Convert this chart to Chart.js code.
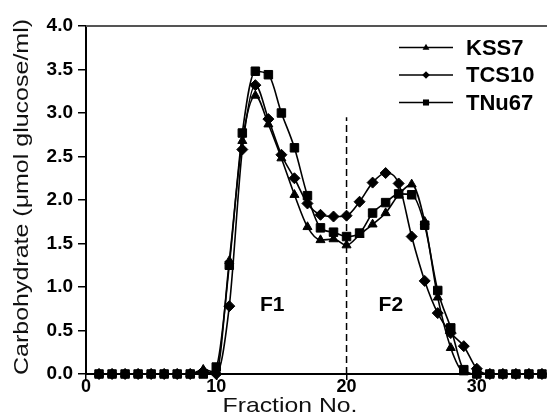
<!DOCTYPE html>
<html>
<head>
<meta charset="utf-8">
<script src="https://cdn.jsdelivr.net/npm/chart.js@4.4.0/dist/chart.umd.min.js"></script>
<style>
  html, body { margin: 0; padding: 0; background: #fff; overflow: hidden; }
</style>
</head>
<body>
<canvas id="myChart" width="547" height="419"></canvas>
<script>
// 横軸: フラクション番号
var fractions = [1, 2, 3, 4, 5, 6, 7, 8, 9, 10, 11, 12, 13, 14, 15, 16, 17, 18,
  19, 20, 21, 22, 23, 24, 25, 26, 27, 28, 29, 30, 31, 32, 33, 34, 35];
// 各系列の値 (µmol glucose/ml)
var kss7 = [0, 0, 0, 0, 0, 0, 0, 0, 0.05, 0.02, 1.30, 2.68, 3.20, 2.87, 2.48, 2.06, 1.69, 1.54,
  1.55, 1.48, 1.60, 1.72, 1.85, 2.06, 2.18, 1.75, 0.88, 0.30, 0.02, 0, 0, 0, 0, 0, 0];
var tcs10 = [0, 0, 0, 0, 0, 0, 0, 0, 0.03, 0, 0.78, 2.58, 3.32, 2.93, 2.52, 2.25, 1.96, 1.83,
  1.81, 1.82, 1.98, 2.20, 2.31, 2.19, 1.58, 1.07, 0.70, 0.47, 0.32, 0.06, 0, 0, 0, 0, 0];
var tnu67 = [0, 0, 0, 0, 0, 0, 0, 0, 0, 0.08, 1.25, 2.77, 3.48, 3.44, 3.00, 2.60, 2.05, 1.68,
  1.63, 1.58, 1.62, 1.85, 1.97, 2.07, 2.06, 1.71, 0.96, 0.53, 0.05, 0, 0, 0, 0, 0, 0];
var seriesNames = ["KSS7", "TCS10", "TNu67"];
var xTicks = [0, 10, 20, 30];
var FONT = "'Liberation Sans', Arial, Helvetica, sans-serif";

function toPoints(vals) {
  var out = [];
  for (var i = 0; i < fractions.length; i++) out.push({ x: fractions[i], y: vals[i] });
  return out;
}

function makeSet(label, vals, style, rad) {
  return {
    label: label, data: toPoints(vals),
    borderColor: "#000", backgroundColor: "#000", borderWidth: 1.6,
    pointStyle: style, pointRadius: rad, pointHoverRadius: rad,
    pointBackgroundColor: "#000", pointBorderColor: "#000", pointBorderWidth: 1,
    cubicInterpolationMode: "monotone", clip: false
  };
}

// 横に伸ばした文字を描く
function stretchText(ctx, text, x, y, font, sx, rot) {
  ctx.save();
  ctx.translate(x, y);
  if (rot) ctx.rotate(rot);
  ctx.scale(sx, 1);
  ctx.font = font;
  ctx.fillText(text, 0, 0);
  ctx.restore();
}

function marker(ctx, style, x, y, r) {
  ctx.beginPath();
  if (style === "triangle") {
    ctx.moveTo(x, y - r); ctx.lineTo(x + r * 0.9, y + r * 0.6); ctx.lineTo(x - r * 0.9, y + r * 0.6);
  } else if (style === "rectRot") {
    ctx.moveTo(x, y - r); ctx.lineTo(x + r, y); ctx.lineTo(x, y + r); ctx.lineTo(x - r, y);
  } else {
    ctx.rect(x - r * 0.8, y - r * 0.8, r * 1.6, r * 1.6);
  }
  ctx.closePath();
  ctx.fill();
}

var extras = {
  id: "extras",
  beforeDatasetsDraw: function (chart) {
    var ctx = chart.ctx, xs = chart.scales.x, ys = chart.scales.y;
    // F1/F2 の境界線
    ctx.save();
    ctx.strokeStyle = "#000";
    ctx.lineWidth = 1.5;
    ctx.setLineDash([7, 4]);
    ctx.beginPath();
    ctx.moveTo(xs.getPixelForValue(20), ys.getPixelForValue(0));
    ctx.lineTo(xs.getPixelForValue(20), ys.getPixelForValue(2.95));
    ctx.stroke();
    ctx.restore();
  },
  afterDraw: function (chart) {
    var ctx = chart.ctx, xs = chart.scales.x, ys = chart.scales.y, a = chart.chartArea;
    ctx.save();
    // 上の枠線
    ctx.strokeStyle = "#555";
    ctx.lineWidth = 2;
    ctx.beginPath(); ctx.moveTo(a.left, a.top); ctx.lineTo(548, a.top); ctx.stroke();

    ctx.fillStyle = "#000";
    ctx.textAlign = "center";
    ctx.textBaseline = "middle";
    ctx.font = "bold 21px " + FONT;
    ctx.fillText("F1", xs.getPixelForValue(14.3), ys.getPixelForValue(0.79));
    ctx.fillText("F2", xs.getPixelForValue(23.4), ys.getPixelForValue(0.79));

    // 軸タイトル
    ctx.fillStyle = "#111";
    stretchText(ctx, "Fraction No.", 290, 406, "21px " + FONT, 1.18, 0);
    stretchText(ctx, "Carbohydrate (\u03bcmol glucose/ml)", 22, 197, "21px " + FONT, 1.19, -Math.PI / 2);

    // 凡例
    var styles = ["triangle", "rectRot", "rect"];
    var rows = [47.5, 75, 102.5];
    ctx.textAlign = "left";
    ctx.fillStyle = "#000";
    for (var i = 0; i < seriesNames.length; i++) {
      ctx.strokeStyle = "#000";
      ctx.lineWidth = 1.5;
      ctx.beginPath(); ctx.moveTo(399, rows[i]); ctx.lineTo(453, rows[i]); ctx.stroke();
      marker(ctx, styles[i], 426, rows[i], 3.8);
      stretchText(ctx, seriesNames[i], 466, rows[i] + 1, "bold 22px " + FONT, 1.0, 0);
    }
    ctx.restore();
  }
};

var ctx = document.getElementById("myChart");
var myChart = new Chart(ctx, {
  type: "line",
  data: {
    datasets: [
      makeSet(seriesNames[0], kss7, "triangle", 5.2),
      makeSet(seriesNames[1], tcs10, "rectRot", 5.5),
      makeSet(seriesNames[2], tnu67, "rect", 6)
    ]
  },
  options: {
    responsive: false,
    animation: false,
    devicePixelRatio: 1,
    layout: { padding: { top: 26, right: 0, left: 0, bottom: 0 } },
    plugins: { legend: { display: false }, tooltip: { enabled: false } },
    scales: {
      x: {
        type: "linear", min: 0, max: 34.85,
        afterBuildTicks: function (axis) { axis.ticks = xTicks.map(function (v) { return { value: v }; }); },
        afterFit: function (s) { s.height = 45; },
        ticks: { color: "#000", padding: -4, maxRotation: 0, font: { family: FONT, size: 18, weight: "bold" } },
        grid: { drawOnChartArea: false, tickLength: 6, color: "#000", lineWidth: 1.5 },
        border: { color: "#000", width: 2 }
      },
      y: {
        min: 0, max: 4,
        afterFit: function (s) { s.width = 86; },
        ticks: {
          stepSize: 0.5, color: "#000", padding: 5,
          font: { family: FONT, size: 19, weight: "bold" },
          callback: function (v) { return v.toFixed(1); }
        },
        grid: { drawOnChartArea: false, tickLength: 8, color: "#000", lineWidth: 1.5 },
        border: { color: "#000", width: 2 }
      }
    }
  },
  plugins: [extras]
});
</script>
</body>
</html>
